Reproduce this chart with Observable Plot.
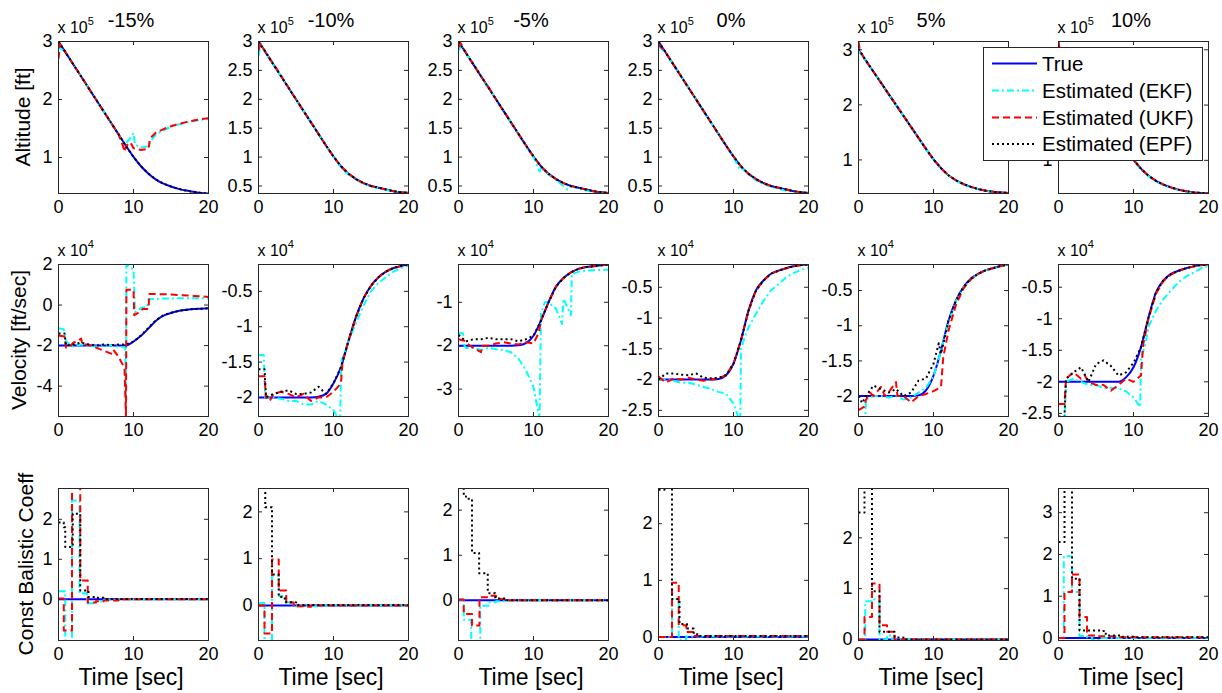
<!DOCTYPE html>
<html><head><meta charset="utf-8">
<script src="https://cdn.jsdelivr.net/npm/d3@7"></script>
<script src="https://cdn.jsdelivr.net/npm/@observablehq/plot@0.6"></script>
<style>
body{margin:0;background:#fff;}
#fig{position:relative;width:1222px;height:693px;overflow:hidden;background:#fff;font-family:"Liberation Sans",Arial,sans-serif;}
.panel{position:absolute;}
.panel svg{background:transparent;max-width:none;}
#overlay{position:absolute;left:0;top:0;}
</style></head><body><div id="fig"></div>
<script>
// ---------- labels ----------
const scenarioLabels = ["-15%","-10%","-5%","0%","5%","10%"];
const rowLabels = ["Altitude [ft]","Velocity [ft/sec]","Const Balistic Coeff"];
const rowExponents = ["5","4",null];
const seriesKeys = ["True","EKF","UKF","EPF"];
const legendLabels = ["True","Estimated (EKF)","Estimated (UKF)","Estimated (EPF)"];
const xTicks = [0,10,20];
const tSec = [0,1,2,3,4,5,6,7,8,9,10,11,12,13,14,15,16,17,18,19,20];

// ---------- Altitude (x 10^5 ft) ----------
const alt_n15 = {
  True: [3.00,2.80,2.60,2.40,2.20,2.00,1.80,1.60,1.40,1.20,1.01,0.85,0.72,0.62,0.55,0.50,0.46,0.43,0.41,0.39,0.38],
  EKF: [[0,2.9],[0.5,2.86],[1,2.8],[2,2.6],[3,2.4],[4,2.2],[5,2.0],[6,1.8],[7,1.6],[8,1.4],[8.6,1.24],[9,1.25],[9.5,1.32],[10,1.42],[10.2,1.22],[11,1.17],[12,1.2],[12.4,1.3],[13,1.4],[14,1.47],[15,1.53],[16,1.57],[17,1.6],[18,1.63],[19,1.65],[20,1.67]],
  UKF: [[0,2.7],[0.2,2.96],[1,2.8],[2,2.6],[3,2.4],[4,2.2],[5,2.0],[6,1.8],[7,1.6],[8,1.4],[8.6,1.2],[8.8,1.1],[9,1.2],[9.6,1.26],[10,1.16],[11,1.13],[12,1.15],[12.2,1.33],[13,1.43],[14,1.49],[15,1.54],[16,1.58],[17,1.61],[18,1.64],[19,1.66],[20,1.68]],
  EPF: [[0,3.0],[1,2.8],[2,2.6],[3,2.4],[4,2.2],[5,2.0],[6,1.8],[7,1.6],[8,1.4],[9,1.2],[10,1.01],[11,0.85],[12,0.72],[13,0.62],[14,0.55],[15,0.5],[16,0.46],[17,0.43],[18,0.41],[19,0.39],[20,0.38]]
};
const alt_n10 = {
  True: [3.00,2.80,2.60,2.40,2.20,2.00,1.80,1.60,1.40,1.20,1.01,0.84,0.71,0.62,0.55,0.50,0.47,0.44,0.41,0.39,0.38],
  EKF: [[0,2.75],[0.3,2.95],[1,2.79],[2,2.6],[3,2.4],[4,2.2],[5,2.0],[6,1.8],[7,1.6],[8,1.4],[9,1.2],[10,1.0],[11,0.82],[12,0.7],[13,0.61],[14,0.54],[15,0.49],[16,0.46],[17,0.43],[18,0.41],[19,0.39],[20,0.37]],
  UKF: [[0,2.85],[0.3,2.96],[1,2.8],[2,2.61],[3,2.41],[4,2.2],[5,2.0],[6,1.8],[7,1.6],[8,1.4],[9,1.2],[10,1.01],[11,0.84],[12,0.72],[13,0.62],[14,0.55],[15,0.5],[16,0.47],[17,0.44],[18,0.41],[19,0.39],[20,0.38]],
  EPF: [[0,3.0],[1,2.81],[2,2.6],[3,2.4],[4,2.2],[5,2.0],[6,1.8],[7,1.6],[8,1.4],[9,1.2],[10,1.01],[11,0.84],[12,0.71],[13,0.62],[14,0.55],[15,0.5],[16,0.47],[17,0.44],[18,0.41],[19,0.39],[20,0.38]]
};
const alt_n5 = {
  True: [3.00,2.80,2.60,2.40,2.20,2.00,1.80,1.60,1.40,1.20,1.01,0.84,0.71,0.62,0.55,0.50,0.47,0.44,0.41,0.39,0.38],
  EKF: [[0,2.85],[0.4,2.92],[1,2.8],[2,2.6],[3,2.4],[4,2.2],[5,2.0],[6,1.8],[7,1.6],[8,1.4],[9,1.2],[10,1.0],[10.8,0.75],[11,0.82],[12,0.7],[13,0.6],[14,0.5],[14.5,0.44],[15,0.49],[16,0.46],[17,0.42],[18,0.4],[19,0.38],[20,0.37]],
  UKF: [[0,2.9],[0.3,2.97],[1,2.8],[2,2.6],[3,2.4],[4,2.21],[5,2.0],[6,1.8],[7,1.6],[8,1.4],[9,1.2],[10,1.01],[11,0.84],[12,0.71],[13,0.62],[14,0.55],[15,0.5],[16,0.47],[17,0.44],[18,0.41],[19,0.39],[20,0.38]],
  EPF: [[0,3.0],[1,2.8],[2,2.6],[3,2.4],[4,2.2],[5,2.0],[6,1.8],[7,1.6],[8,1.4],[9,1.2],[10,1.01],[11,0.84],[12,0.71],[13,0.62],[14,0.55],[15,0.5],[16,0.47],[17,0.44],[18,0.41],[19,0.39],[20,0.38]]
};
const alt_p0 = {
  True: [3.00,2.80,2.60,2.40,2.20,2.00,1.80,1.60,1.40,1.20,1.01,0.84,0.71,0.62,0.55,0.50,0.47,0.44,0.41,0.39,0.38],
  EKF: [[0,2.92],[1,2.8],[2,2.6],[3,2.4],[4,2.2],[5,2.0],[6,1.8],[7,1.6],[8,1.4],[9,1.2],[10,1.0],[10.8,0.79],[11,0.82],[12,0.7],[13,0.6],[14,0.53],[15,0.49],[16,0.45],[17,0.42],[18,0.4],[19,0.38],[20,0.37]],
  UKF: [[0,2.95],[1,2.8],[2,2.6],[3,2.4],[4,2.2],[5,2.0],[6,1.8],[7,1.6],[8,1.4],[9,1.2],[10,1.01],[11,0.84],[12,0.71],[13,0.62],[14,0.55],[15,0.5],[16,0.47],[17,0.44],[18,0.41],[19,0.39],[20,0.38]],
  EPF: [[0,3.0],[1,2.8],[2,2.6],[3,2.4],[4,2.2],[5,2.0],[6,1.8],[7,1.6],[8,1.4],[9,1.2],[10,1.01],[11,0.84],[12,0.71],[13,0.62],[14,0.55],[15,0.5],[16,0.47],[17,0.44],[18,0.41],[19,0.39],[20,0.38]]
};
const alt_p5 = {
  True: [3.00,2.80,2.60,2.40,2.20,2.00,1.80,1.60,1.40,1.20,1.01,0.85,0.72,0.63,0.56,0.51,0.47,0.44,0.42,0.41,0.40],
  EKF: [[0,2.98],[1,2.8],[2,2.6],[3,2.4],[4,2.2],[5,2.0],[6,1.8],[7,1.6],[8,1.4],[9,1.2],[10,1.0],[11,0.84],[12,0.72],[13,0.62],[14,0.55],[15,0.5],[16,0.47],[17,0.44],[18,0.42],[19,0.4],[20,0.39]],
  UKF: [[0,3.15],[0.2,2.98],[1,2.8],[2,2.6],[3,2.4],[4,2.2],[5,2.0],[6,1.8],[7,1.6],[8,1.4],[9,1.2],[10,1.01],[11,0.85],[12,0.72],[13,0.63],[14,0.56],[15,0.51],[16,0.47],[17,0.44],[18,0.42],[19,0.41],[20,0.40]],
  EPF: [[0,3.02],[1,2.8],[2,2.6],[3,2.4],[4,2.2],[5,2.0],[6,1.8],[7,1.6],[8,1.4],[9,1.2],[10,1.01],[11,0.85],[12,0.72],[13,0.63],[14,0.56],[15,0.51],[16,0.47],[17,0.44],[18,0.42],[19,0.41],[20,0.40]]
};
const alt_p10 = {
  True: [3.00,2.80,2.60,2.40,2.20,2.00,1.80,1.60,1.40,1.20,1.01,0.85,0.72,0.63,0.56,0.51,0.47,0.44,0.42,0.41,0.40],
  EKF: [[0,2.96],[1,2.8],[2,2.6],[3,2.4],[4,2.2],[5,2.0],[6,1.8],[7,1.6],[8,1.4],[9,1.2],[10,1.0],[11,0.83],[12,0.71],[13,0.62],[14,0.55],[15,0.5],[16,0.46],[17,0.43],[18,0.41],[19,0.4],[20,0.39]],
  UKF: [[0,3.15],[0.2,2.98],[1,2.8],[2,2.6],[3,2.4],[4,2.2],[5,2.0],[6,1.8],[7,1.6],[8,1.4],[9,1.2],[10,1.01],[11,0.85],[12,0.72],[13,0.63],[14,0.56],[15,0.51],[16,0.47],[17,0.44],[18,0.42],[19,0.41],[20,0.40]],
  EPF: [[0,3.05],[1,2.8],[2,2.6],[3,2.4],[4,2.2],[5,2.0],[6,1.8],[7,1.6],[8,1.4],[9,1.2],[10,1.01],[11,0.85],[12,0.72],[13,0.63],[14,0.56],[15,0.51],[16,0.47],[17,0.44],[18,0.42],[19,0.41],[20,0.40]]
};

// ---------- Velocity (x 10^4 ft/sec) ----------
const vel_n15 = {
  True: [-2,-2,-2,-2,-2,-2,-2,-2,-2,-1.99,-1.8,-1.52,-1.15,-0.77,-0.52,-0.39,-0.29,-0.24,-0.2,-0.18,-0.16],
  EKF: [[0,-1.15],[0.7,-1.2],[1,-1.8],[2,-2.05],[3,-1.95],[4,-2.0],[5,-2.05],[6,-2.0],[7,-2.0],[8,-2.05],[8.9,-2.1],[9,-5.6],[9.05,2.0],[10,1.75],[10.2,-0.35],[11,-0.15],[11.8,-0.1],[12,0.28],[14,0.32],[16,0.33],[20,0.33]],
  UKF: [[0,-1.5],[0.8,-1.55],[1,-2.1],[1.5,-2.05],[2,-1.85],[2.5,-1.8],[3,-1.65],[3.2,-1.95],[4,-1.95],[5,-2.1],[6,-2.25],[7,-2.4],[7.3,-2.2],[8,-2.55],[8.8,-3.1],[9,-5.6],[9.05,0.75],[10,0.75],[10.1,-0.5],[11,-0.3],[11.2,-0.2],[12,-0.2],[12.1,0.55],[15,0.52],[18,0.45],[20,0.4]],
  EPF: [[0,-1.4],[0.8,-1.4],[1,-2.0],[2,-1.95],[3,-1.85],[4,-1.95],[5,-2.0],[6,-1.95],[7,-1.98],[8,-1.95],[9,-1.95],[10,-1.8],[11,-1.5],[12,-1.12],[13,-0.75],[14,-0.5],[15,-0.38],[16,-0.29],[17,-0.23],[18,-0.2],[19,-0.18],[20,-0.16]]
};
const vel_n10 = {
  True: [-2,-2,-2,-2,-2,-2,-2,-2,-1.99,-1.95,-1.8,-1.57,-1.2,-0.86,-0.6,-0.42,-0.3,-0.22,-0.17,-0.14,-0.12],
  EKF: [[0,-1.4],[0.7,-1.4],[0.9,-2.0],[2,-2.0],[3,-2.02],[4,-2.05],[5,-2.05],[6,-2.1],[7,-2.1],[8,-2.05],[9,-2.1],[10,-2.18],[10.9,-2.35],[11,-1.5],[12,-1.2],[13,-0.95],[14,-0.7],[15,-0.5],[16,-0.38],[17,-0.3],[18,-0.22],[19,-0.17],[20,-0.14]],
  UKF: [[0,-1.7],[0.8,-1.7],[1,-2.0],[1.5,-2.05],[2,-1.95],[3,-1.92],[4,-1.95],[5,-2.0],[6,-1.95],[7,-2.05],[8,-2.0],[9,-2.0],[10,-1.92],[11,-1.8],[11.2,-1.5],[12,-1.2],[13,-0.86],[14,-0.6],[15,-0.42],[16,-0.3],[17,-0.22],[18,-0.17],[19,-0.14],[20,-0.12]],
  EPF: [[0,-1.6],[0.8,-1.6],[1,-2.0],[2,-1.95],[3,-1.92],[4,-1.9],[5,-1.95],[6,-1.95],[7,-1.93],[8,-1.85],[9,-1.95],[10,-1.8],[11,-1.57],[12,-1.2],[13,-0.86],[14,-0.6],[15,-0.42],[16,-0.3],[17,-0.22],[18,-0.17],[19,-0.14],[20,-0.12]]
};
const vel_n5 = {
  True: [-2,-2,-2,-2,-2,-2,-2,-2,-1.99,-1.94,-1.77,-1.42,-1.0,-0.64,-0.44,-0.31,-0.23,-0.19,-0.17,-0.15,-0.13],
  EKF: [[0,-1.7],[0.6,-1.72],[0.8,-2.0],[1,-2.05],[2,-2.05],[3,-2.1],[4,-2.05],[5,-2.08],[6,-2.1],[7,-2.15],[8,-2.3],[9,-2.57],[10,-2.95],[10.8,-3.7],[11,-1.27],[11.5,-1.0],[12,-1.0],[13,-1.15],[13.8,-1.5],[14,-0.92],[15,-1.3],[15.1,-0.35],[16,-0.3],[17,-0.27],[18,-0.26],[20,-0.25]],
  UKF: [[0,-1.85],[1,-1.9],[1.5,-2.0],[2,-2.05],[3,-2.15],[3.2,-2.0],[4,-2.0],[5,-1.95],[6,-1.92],[7,-1.95],[8,-1.97],[9,-1.92],[10,-1.95],[10.7,-1.7],[11,-1.42],[12,-1.0],[13,-0.64],[14,-0.44],[15,-0.31],[16,-0.23],[17,-0.19],[18,-0.17],[19,-0.15],[20,-0.13]],
  EPF: [[0,-1.75],[1,-1.9],[2,-1.85],[3,-1.85],[4,-1.82],[5,-1.85],[6,-1.85],[7,-1.85],[8,-1.9],[9,-1.85],[10,-1.77],[11,-1.42],[12,-1.0],[13,-0.64],[14,-0.44],[15,-0.31],[16,-0.23],[17,-0.19],[18,-0.17],[19,-0.15],[20,-0.13]]
};
const vel_p0 = {
  True: [-2,-2,-2,-2,-2,-2,-2,-2,-1.99,-1.93,-1.74,-1.36,-0.88,-0.55,-0.39,-0.28,-0.23,-0.19,-0.16,-0.14,-0.13],
  EKF: [[0,-2.0],[1,-2.0],[2,-2.02],[3,-2.05],[4,-2.05],[5,-2.08],[6,-2.12],[7,-2.15],[8,-2.2],[9,-2.23],[10,-2.39],[10.9,-2.7],[11,-1.5],[11.5,-1.31],[12,-1.15],[13,-0.93],[14,-0.72],[15,-0.55],[16,-0.45],[17,-0.34],[18,-0.27],[19,-0.22],[20,-0.18]],
  UKF: [[0,-1.95],[1,-2.05],[2,-1.98],[3,-2.0],[4,-1.97],[5,-2.0],[6,-2.02],[7,-2.0],[8,-1.98],[9,-1.93],[10,-1.74],[11,-1.36],[12,-0.88],[13,-0.55],[14,-0.39],[15,-0.28],[16,-0.23],[17,-0.19],[18,-0.16],[19,-0.14],[20,-0.13]],
  EPF: [[0,-2.0],[1,-1.9],[2,-1.9],[3,-1.92],[4,-1.93],[5,-1.9],[6,-1.97],[7,-1.98],[8,-1.97],[9,-1.93],[10,-1.74],[11,-1.36],[12,-0.88],[13,-0.55],[14,-0.39],[15,-0.28],[16,-0.23],[17,-0.19],[18,-0.16],[19,-0.14],[20,-0.13]]
};
const vel_p5 = {
  True: [-2,-2,-2,-2,-2,-2,-2,-2,-1.99,-1.92,-1.71,-1.35,-0.93,-0.64,-0.45,-0.33,-0.26,-0.21,-0.18,-0.15,-0.13],
  EKF: [[0,-2.3],[0.9,-2.3],[1,-2.05],[2,-2.0],[3,-2.0],[4,-2.02],[5,-2.0],[6,-2.05],[7,-2.02],[8,-1.95],[9,-1.88],[10,-1.72],[11,-1.36],[12,-0.95],[13,-0.65],[14,-0.46],[15,-0.34],[16,-0.26],[17,-0.21],[18,-0.18],[19,-0.15],[20,-0.13]],
  UKF: [[0,-2.2],[0.8,-2.15],[1,-2.05],[1.5,-1.95],[2,-2.0],[3,-1.87],[3.5,-2.0],[4,-1.95],[5,-1.8],[5.2,-2.0],[6,-2.0],[7,-2.09],[8,-2.0],[9,-1.97],[10,-1.93],[11,-1.87],[11.3,-1.45],[12,-1.07],[13,-0.7],[14,-0.47],[15,-0.34],[16,-0.26],[17,-0.21],[18,-0.18],[19,-0.15],[20,-0.13]],
  EPF: [[0,-2.0],[0.5,-2.1],[1,-2.0],[2,-1.85],[3,-1.9],[4,-1.95],[5,-1.9],[6,-2.0],[7,-1.95],[8,-1.78],[9,-1.75],[10,-1.54],[10.7,-1.25],[11,-1.4],[12,-0.93],[13,-0.64],[14,-0.45],[15,-0.33],[16,-0.26],[17,-0.21],[18,-0.18],[19,-0.15],[20,-0.13]]
};
const vel_p10 = {
  True: [-2,-2,-2,-2,-2,-2,-2,-2,-2,-1.93,-1.77,-1.45,-0.98,-0.58,-0.39,-0.29,-0.24,-0.2,-0.17,-0.15,-0.14],
  EKF: [[0,-2.6],[0.8,-2.6],[1,-2.0],[2,-1.95],[3,-2.0],[4,-2.05],[5,-2.05],[6,-2.1],[7,-2.1],[8,-2.1],[9,-2.15],[10,-2.25],[10.9,-2.4],[11,-1.6],[11.5,-1.45],[12,-1.13],[13,-0.87],[14,-0.69],[15,-0.55],[16,-0.42],[17,-0.33],[18,-0.27],[19,-0.2],[20,-0.16]],
  UKF: [[0,-2.35],[0.8,-2.35],[1,-1.95],[2,-1.85],[3,-1.95],[3.5,-1.9],[4,-2.0],[5,-2.05],[6,-2.05],[7,-2.14],[8,-2.05],[9,-1.95],[10,-2.0],[11,-1.9],[11.3,-1.4],[12,-1.0],[13,-0.6],[14,-0.4],[15,-0.3],[16,-0.24],[17,-0.2],[18,-0.17],[19,-0.15],[20,-0.14]],
  EPF: [[0,-2.55],[0.8,-2.55],[1,-1.95],[2,-1.85],[3,-1.77],[4,-2.0],[5,-1.72],[6,-1.66],[7,-1.75],[8,-1.9],[9,-1.85],[10,-1.7],[11,-1.45],[12,-0.98],[13,-0.58],[14,-0.39],[15,-0.29],[16,-0.24],[17,-0.2],[18,-0.17],[19,-0.15],[20,-0.14]]
};

// ---------- Const ballistic coefficient (steps) ----------
const bc_n15 = {
  True: [[0,0],[20,0]],
  EKF: [[0,0.2],[0.9,-1.15],[1.8,2.47],[2.8,0.15],[3.8,-0.1],[4.8,-0.05],[6,-0.02],[8,0],[20,0]],
  UKF: [[0,0.02],[0.7,-0.78],[1.8,3.0],[2.9,0.47],[3.9,-0.08],[5,-0.05],[6,-0.03],[8,0],[20,0]],
  EPF: [[0,1.92],[0.7,1.8],[0.9,1.31],[1.9,2.14],[2.9,0.22],[4,0.06],[5,0.04],[6,0.01],[20,0]]
};
const bc_n10 = {
  True: [[0,0],[20,0]],
  EKF: [[0,0.05],[0.8,-0.85],[1.8,0.64],[2.7,0.2],[3.6,0.07],[4.5,0.02],[5,-0.02],[9,0],[20,0]],
  UKF: [[0,0.0],[0.8,-0.6],[1.8,0.98],[2.7,0.32],[3.7,0.06],[4.7,-0.02],[6,-0.03],[7,0],[20,0]],
  EPF: [[0,2.6],[0.9,2.1],[1.8,0.66],[2.7,0.18],[3.5,0.07],[5,0.01],[20,0]]
};
const bc_n5 = {
  True: [[0,0],[20,0]],
  EKF: [[0,0.02],[0.7,-0.43],[1.7,-0.95],[2.9,-0.12],[4,-0.04],[5,-0.02],[6.5,0],[20,0]],
  UKF: [[0,0.02],[0.7,-0.3],[1.8,-0.56],[2.8,0.07],[3.8,0.1],[5,0.03],[6.5,0],[20,0]],
  EPF: [[0,2.6],[0.7,2.3],[1,2.25],[1.8,1.05],[2.75,0.6],[3.9,0.16],[4.9,0.04],[6.5,0],[20,0]]
};
const bc_p0 = {
  True: [[0,0],[20,0]],
  EKF: [[0,0.0],[1.8,0.67],[2.7,-0.05],[3.7,0.01],[20,0.01]],
  UKF: [[0,0.0],[1.8,0.96],[2.7,0.21],[3.7,0.09],[4.7,0.02],[20,0.02]],
  EPF: [[0,2.6],[0.8,2.8],[1.8,0.67],[2.8,0.23],[3.8,0.15],[4.7,0.05],[5.5,0.02],[20,0.02]]
};
const bc_p5 = {
  True: [[0,0],[20,0]],
  EKF: [[0,0.0],[0.9,0.75],[1.8,0.79],[2.8,0.0],[3.8,0.08],[4.5,0.0],[20,0]],
  UKF: [[0,0.0],[0.8,0.44],[1.8,1.1],[2.8,0.28],[3.8,0.15],[4.8,0.0],[20,0]],
  EPF: [[0,2.5],[0.8,3.1],[1.8,0.95],[2.8,0.15],[4.8,0.04],[6,0.0],[20,0]]
};
const bc_p10 = {
  True: [[0,0],[20,0]],
  EKF: [[0,0.0],[0.7,1.96],[1.8,1.1],[2.8,0.05],[3.8,0.02],[4.5,-0.05],[5.5,0],[20,0]],
  UKF: [[0,0.0],[0.8,1.1],[1.8,1.52],[2.8,0.5],[3.8,0.06],[5,0.04],[8,0.02],[20,0.02]],
  EPF: [[0,2.3],[0.8,3.7],[1.8,1.42],[2.8,0.18],[5.8,0.17],[6.3,0.06],[8.5,0.03],[10,0.02],[20,0.02]]
};

// ---------- axis domains, ticks, visible tick labels ----------
const altDomains = [[0.38,3.0],[0.37,3.0],[0.37,3.0],[0.37,3.0],[0.39,3.15],[0.40,3.15]];
const altTicks = [[1,2,3],[0.5,1,1.5,2,2.5,3],[0.5,1,1.5,2,2.5,3],[0.5,1,1.5,2,2.5,3],[1,2,3],[1,2,3]];
const altTickLabels = [[1,2,3],[0.5,1,1.5,2,2.5,3],[0.5,1,1.5,2,2.5,3],[0.5,1,1.5,2,2.5,3],[1,2,3],[1]]; // last panel: 2 and 3 sit under the legend
const velDomains = [[-5.5,2],[-2.27,-0.12],[-3.63,-0.13],[-2.6,-0.13],[-2.29,-0.13],[-2.55,-0.14]];
const velTicks = [[-4,-2,0,2],[-2,-1.5,-1,-0.5],[-3,-2,-1],[-2.5,-2,-1.5,-1,-0.5],[-2,-1.5,-1,-0.5],[-2.5,-2,-1.5,-1,-0.5]];
const bcDomains = [[-1.03,2.77],[-0.75,2.5],[-0.89,2.48],[-0.06,2.62],[-0.02,2.97],[-0.06,3.58]];
const bcTicks = [[0,1,2],[0,1,2],[0,1,2],[0,1,2],[0,1,2],[0,1,2,3]];

const rows = [
  {panels:[alt_n15,alt_n10,alt_n5,alt_p0,alt_p5,alt_p10], domains:altDomains, ticks:altTicks, labels:altTickLabels, step:false},
  {panels:[vel_n15,vel_n10,vel_n5,vel_p0,vel_p5,vel_p10], domains:velDomains, ticks:velTicks, labels:velTicks, step:false},
  {panels:[bc_n15,bc_n10,bc_n5,bc_p0,bc_p5,bc_p10], domains:bcDomains, ticks:bcTicks, labels:bcTicks, step:true}
];

// ---------- styles / layout ----------
const seriesStyle = {
  True: {stroke:"#0000ff", dash:null},
  EKF:  {stroke:"#00ffff", dash:"7,3,2,3"},
  UKF:  {stroke:"#ff0000", dash:"7,4"},
  EPF:  {stroke:"#000000", dash:"2,3"}
};
const axisColor = "#262626";
const FONT = "'Liberation Sans', Arial, sans-serif";
const W = 150, H = 152;
const mL = 50, mR = 12, mT = 14, mB = 34;
const panelLefts = [58, 258, 458, 658, 858, 1058];
const rowTops = [41, 264, 488];
const fmt = d => String(d);

const fig = document.getElementById("fig");

function toPairs(s) { return typeof s[0] === "number" ? s.map((v, i) => [tSec[i], v]) : s; }

rows.forEach((row, r) => {
  row.panels.forEach((data, c) => {
    const yt = row.ticks[c];
    const marks = [
      Plot.ruleX(xTicks, {x: d => d, insetTop: H - 4, stroke: axisColor}),
      Plot.ruleX(xTicks, {x: d => d, insetBottom: H - 4, stroke: axisColor}),
      Plot.ruleY(yt, {y: d => d, insetRight: W - 4, stroke: axisColor}),
      Plot.ruleY(yt, {y: d => d, insetLeft: W - 4, stroke: axisColor})
    ];
    for (const k of seriesKeys) {
      const st = seriesStyle[k];
      const curve = (row.step && k !== "True") ? "step-after" : (k === "True" ? "monotone-x" : "linear");
      marks.push(Plot.line(toPairs(data[k]), {
        x: d => d[0], y: d => d[1], stroke: st.stroke, strokeWidth: 2,
        strokeDasharray: st.dash || undefined, strokeLinecap: "butt", curve, clip: true
      }));
    }
    marks.push(Plot.axisX(xTicks, {tickSize: 0, tickPadding: 7, tickFormat: fmt, label: null}));
    marks.push(Plot.axisY(row.labels[c], {tickSize: 0, tickPadding: 6, tickFormat: fmt, label: null}));
    marks.push(Plot.frame({stroke: axisColor, strokeWidth: 1}));
    const svg = Plot.plot({
      width: W + mL + mR, height: H + mT + mB,
      marginLeft: mL, marginRight: mR, marginTop: mT, marginBottom: mB,
      x: {domain: [0, 20]},
      y: {domain: row.domains[c]},
      style: {background: "transparent", fontFamily: FONT, fontSize: "18px", color: "#000", overflow: "visible"},
      marks
    });
    const div = document.createElement("div");
    div.className = "panel";
    div.style.left = (panelLefts[c] - mL) + "px";
    div.style.top = (rowTops[r] - mT) + "px";
    div.appendChild(svg);
    fig.appendChild(div);
  });
});

// ---------- overlay: titles, labels, legend ----------
const ov = d3.create("svg").attr("id", "overlay").attr("width", 1222).attr("height", 693)
  .style("font-family", FONT);

scenarioLabels.forEach((s, c) => {
  ov.append("text").attr("x", panelLefts[c] + 73).attr("y", 27).attr("text-anchor", "middle")
    .attr("font-size", 20).attr("fill", "#000").text(s);
});
rowExponents.forEach((e, r) => {
  if (!e) return;
  panelLefts.forEach(px => {
    const t = ov.append("text").attr("x", px - 0.5).attr("y", rowTops[r] - 8.5)
      .attr("font-size", 16).attr("fill", "#000");
    t.append("tspan").text("x 10");
    t.append("tspan").attr("dy", -8).attr("font-size", 11).text(e);
  });
});
const yLabelX = [29.5, 25.5, 33];
rowLabels.forEach((lab, r) => {
  const cy = rowTops[r] + H / 2;
  ov.append("text").attr("transform", `translate(${yLabelX[r]},${cy}) rotate(-90)`)
    .attr("text-anchor", "middle").attr("font-size", 21).attr("fill", "#000").text(lab);
});
panelLefts.forEach(px => {
  ov.append("text").attr("x", px + 73).attr("y", 685).attr("text-anchor", "middle")
    .attr("font-size", 23).attr("fill", "#000").text("Time [sec]");
});

// legend
const lg = ov.append("g").attr("transform", "translate(983,47)");
lg.append("rect").attr("x", 0.5).attr("y", 0.5).attr("width", 219).attr("height", 113)
  .attr("fill", "#fff").attr("stroke", axisColor).attr("stroke-width", 1);
const legendRowY = [16.5, 43.5, 70.5, 97];
seriesKeys.forEach((k, i) => {
  const st = seriesStyle[k];
  lg.append("line").attr("x1", 9).attr("x2", 54).attr("y1", legendRowY[i]).attr("y2", legendRowY[i])
    .attr("stroke", st.stroke).attr("stroke-width", 2).attr("stroke-dasharray", st.dash || null);
  lg.append("text").attr("x", 59).attr("y", legendRowY[i] + 7).attr("font-size", 20.5)
    .attr("fill", "#000").text(legendLabels[i]);
});

fig.appendChild(ov.node());
</script></body></html>
